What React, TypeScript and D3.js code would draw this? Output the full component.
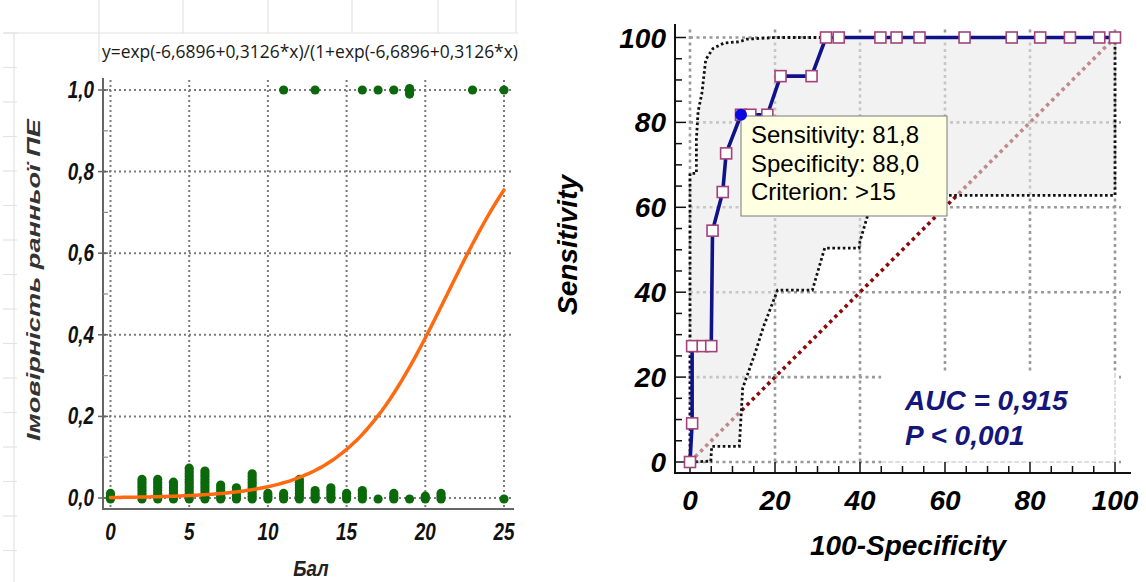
import React from 'react';
import * as d3 from 'd3';

// ---------- Left chart data (logistic regression) ----------
const scoresNo = [0, 2, 3, 4, 5, 6, 7, 8, 9, 10, 11, 12, 13, 14, 15, 16, 17, 18, 19, 20, 21, 25];
const countsNo = [3, 8, 8, 7, 12, 11, 6, 5, 10, 3, 3, 8, 4, 5, 3, 4, 1, 3, 1, 2, 3, 1];
const scoresYes = [11, 13, 16, 17, 18, 19, 23, 25];
const countsYes = [1, 1, 1, 1, 1, 3, 1, 1];
const logitB0 = -6.6896;
const logitB1 = 0.3126;
const leftYTicks = [0, 0.2, 0.4, 0.6, 0.8, 1.0];
const leftYMinor = [0.1, 0.3, 0.5, 0.7, 0.9];
const leftXTicks = [0, 5, 10, 15, 20, 25];
const equationLabel = 'y=exp(-6,6896+0,3126*x)/(1+exp(-6,6896+0,3126*x)';
const leftYTitle = 'Імовірність  ранньої ПЕ';
const leftXTitle = 'Бал';

// ---------- Right chart data (ROC) ----------
const rocFpr = [0, 0.5, 0.5, 3, 5, 5.3, 7.7, 8.5, 12, 14.2, 18.2, 21.3, 28.6, 32, 35, 44.8, 48.6, 54, 64.6, 75.7, 82.4, 89.4, 96.3, 100];
const rocTpr = [0, 9.1, 27.3, 27.3, 27.3, 54.5, 63.6, 72.7, 81.8, 81.8, 81.8, 90.9, 90.9, 100, 100, 100, 100, 100, 100, 100, 100, 100, 100, 100];
const ciUpperFpr = [0, 0, 1.5, 1.5, 1.9, 2.8, 3.7, 5.4, 8, 11.6, 13.3, 20, 100];
const ciUpperTpr = [0, 68, 68, 76, 82.5, 86.9, 94.8, 97.4, 98.7, 99, 99.6, 100, 100];
const ciLowerFpr = [0, 4.9, 5.1, 11.6, 12.4, 15.3, 17.3, 20.6, 28.8, 31.7, 39.8, 40, 41.9, 43.5, 100, 100];
const ciLowerTpr = [0, 0.2, 3.7, 3.7, 17.4, 25.6, 31.9, 40.5, 40.5, 50.4, 50.4, 52, 58.4, 62.8, 62.8, 100];
const rocTicks = [0, 20, 40, 60, 80, 100];
const rocMinorTicks = d3.range(0, 101, 5);
const criterionFpr = 12;
const criterionTpr = 81.8;
const tooltipLines = ['Sensitivity: 81,8', 'Specificity: 88,0', 'Criterion: >15'];
const aucLines = ['AUC = 0,915', 'P < 0,001'];
const rocXTitle = '100-Specificity';
const rocYTitle = 'Sensitivity';

const BI = { fontFamily: '"Liberation Sans", Arial, sans-serif', fontWeight: 700, fontStyle: 'italic' } as const;

export default function App() {
  // Left scales
  const xL = d3.scaleLinear().domain([0, 25]).range([110.5, 504]);
  const yL = d3.scaleLinear().domain([0, 1]).range([498, 90]);
  const fmt = (v: number) => d3.format('.1f')(v).replace('.', ',');
  const curveXs = d3.range(0, 25.001, 0.25);
  const curvePts: [number, number][] = curveXs.map((x) => [x, 1 / (1 + Math.exp(-(logitB0 + logitB1 * x)))]);
  const curvePath = d3.line<[number, number]>().x((d) => xL(d[0])).y((d) => yL(d[1])).curve(d3.curveMonotoneX)(curvePts) || '';
  const step = 2.8;
  const green = '#0b690b';

  // Right scales
  const xR = d3.scaleLinear().domain([0, 100]).range([690, 1115]);
  const yR = d3.scaleLinear().domain([0, 100]).range([462, 37.5]);
  const line = d3.line<[number, number]>().x((d) => xR(d[0])).y((d) => yR(d[1]));
  const rocPts: [number, number][] = rocFpr.map((f, i) => [f, rocTpr[i]]);
  const upPts: [number, number][] = ciUpperFpr.map((f, i) => [f, ciUpperTpr[i]]);
  const lowPts: [number, number][] = ciLowerFpr.map((f, i) => [f, ciLowerTpr[i]]);
  const bandPts = [...upPts, ...[...lowPts].reverse()];
  const bandPath = (line(bandPts) || '') + 'Z';

  const sheetRows = d3.range(33, 582, 34.5);
  const sheetCols = [99, 183, 268, 352, 438, 516];

  const gridR = '#9a9a9a';

  return (
    <svg width={1146} height={582} style={{ position: 'absolute', left: 0, top: 0, background: '#fff' }}>
      <rect x={0} y={0} width={1146} height={582} fill="#fff" />

      {/* faint spreadsheet background */}
      <g stroke="#e3e3e3" strokeWidth={1.2}>
        <line x1={4} x2={518} y1={33} y2={33} />
        {sheetCols.map((c) => (
          <line key={c} x1={c} x2={c} y1={0} y2={c === 99 ? 62 : 33} />
        ))}
        <line x1={14} x2={14} y1={33} y2={582} />
        {sheetRows.map((r) => (
          <line key={r} x1={3} x2={17} y1={r} y2={r} />
        ))}
      </g>

      {/* ================= LEFT CHART ================= */}
      <g>
        {/* grid */}
        <g stroke="#7a7a7a" strokeWidth={2} strokeDasharray="2,3">
          {leftXTicks.map((t) => (
            <line key={'vx' + t} x1={xL(t)} x2={xL(t)} y1={80} y2={508} />
          ))}
          {leftYTicks.map((t) => (
            <line key={'hy' + t} x1={104} x2={512} y1={yL(t)} y2={yL(t)} />
          ))}
        </g>
        {/* axes */}
        <line x1={103} x2={103} y1={78} y2={510} stroke="#666" strokeWidth={2} />
        <line x1={102} x2={514} y1={509} y2={509} stroke="#666" strokeWidth={2} />
        {leftYTicks.map((t) => (
          <line key={'mt' + t} x1={98} x2={108} y1={yL(t)} y2={yL(t)} stroke="#666" strokeWidth={1.5} />
        ))}
        {leftYMinor.map((t) => (
          <line key={'mn' + t} x1={103} x2={108} y1={yL(t)} y2={yL(t)} stroke="#888" strokeWidth={1.2} />
        ))}

        {/* points y=0 */}
        {scoresNo.map((s, i) =>
          d3.range(countsNo[i]).map((k) => (
            <circle key={'n' + s + '-' + k} cx={xL(s)} cy={yL(0) + 1 - k * step} r={4.6} fill={green} />
          ))
        )}
        {/* points y=1 */}
        {scoresYes.map((s, i) =>
          d3.range(countsYes[i]).map((k) => (
            <circle key={'y' + s + '-' + k} cx={xL(s)} cy={yL(1) - (countsYes[i] > 1 ? 1.5 : 0) + k * step} r={4.6} fill={green} />
          ))
        )}

        {/* logistic curve */}
        <path d={curvePath} fill="none" stroke="#ff6a10" strokeWidth={3.5} strokeLinecap="round" />

        {/* tick labels */}
        {leftYTicks.map((t) => (
          <text key={'yl' + t} transform={`translate(94,${yL(t) + 8}) scale(0.82,1)`} textAnchor="end" fontSize={23} fill="#111" style={BI}>
            {fmt(t)}
          </text>
        ))}
        {leftXTicks.map((t) => (
          <text key={'xl' + t} transform={`translate(${xL(t)},540) scale(0.82,1)`} textAnchor="middle" fontSize={23} fill="#111" style={BI}>
            {t}
          </text>
        ))}
        <text transform="translate(311,576) scale(0.85,1)" textAnchor="middle" fontSize={22} fill="#222" style={BI}>
          {leftXTitle}
        </text>
        <text
          transform="translate(40,280) rotate(-90)"
          textAnchor="middle"
          fontSize={19}
          fill="#333"
          textLength={322}
          lengthAdjust="spacingAndGlyphs"
          style={BI}
        >
          {leftYTitle}
        </text>
        <text
          x={102}
          y={58}
          fontSize={18}
          fill="#1a1a1a"
          textLength={416}
          lengthAdjust="spacingAndGlyphs"
          style={{ fontFamily: '"Open Sans", "Liberation Sans", sans-serif' }}
        >
          {equationLabel}
        </text>
      </g>

      {/* ================= RIGHT CHART ================= */}
      <g>
        {/* grid */}
        <g stroke={gridR} strokeWidth={2.6} strokeDasharray="3,3.5">
          {rocTicks.map((t) => (
            <line key={'gv' + t} x1={xR(t)} x2={xR(t)} y1={yR(100) - 8} y2={yR(0)} />
          ))}
          {rocTicks.map((t) => (
            <line key={'gh' + t} x1={xR(0)} x2={xR(100) + 6} y1={yR(t)} y2={yR(t)} />
          ))}
        </g>

        {/* AUC box (white, covers grid) */}
        <rect x={xR(45)} y={yR(21)} width={xR(100) - xR(45) + 2} height={yR(0) - yR(21) + 2} fill="#fff" stroke="none" />
        <g stroke="#bdbdbd" strokeWidth={1} strokeDasharray="5,2">
          <line x1={xR(45)} x2={xR(100)} y1={yR(0)} y2={yR(0)} />
          <line x1={xR(100)} x2={xR(100)} y1={yR(21)} y2={yR(0)} />
        </g>

        {/* diagonal reference */}
        <line x1={xR(0)} y1={yR(0)} x2={xR(100)} y2={yR(100)} stroke="#8b0a0a" strokeWidth={3.6} strokeDasharray="3.5,3.8" />

        {/* confidence band */}
        <path d={bandPath} fill="#e8e8e8" fillOpacity={0.58} stroke="none" />
        <path d={line(upPts) || ''} fill="none" stroke="#111" strokeWidth={2.8} strokeDasharray="2.6,2.6" />
        <path d={line(lowPts) || ''} fill="none" stroke="#111" strokeWidth={2.8} strokeDasharray="2.6,2.6" />

        {/* axes */}
        <line x1={675} x2={675} y1={24} y2={474} stroke="#111" strokeWidth={2} />
        <line x1={674} x2={1131} y1={473} y2={473} stroke="#111" strokeWidth={2} />
        {rocMinorTicks.map((t) => (
          <g key={'tk' + t} stroke="#111" strokeWidth={1.5}>
            <line x1={675} x2={675 + (t % 20 === 0 ? 11 : 7)} y1={yR(t)} y2={yR(t)} />
            <line x1={xR(t)} x2={xR(t)} y1={473} y2={473 - (t % 20 === 0 ? 11 : 7)} />
          </g>
        ))}

        {/* ROC curve */}
        <path d={line(rocPts) || ''} fill="none" stroke="#0f1288" strokeWidth={3.6} strokeLinejoin="round" />
        {rocPts.map((p, i) => (
          <rect key={'sq' + i} x={xR(p[0]) - 5.5} y={yR(p[1]) - 5.5} width={11} height={11} fill="#fff" stroke="#a2437a" strokeWidth={1.6} />
        ))}

        {/* tick labels */}
        {rocTicks.map((t) => (
          <text key={'ryl' + t} x={666} y={yR(t) + 10} textAnchor="end" fontSize={28} fill="#000" style={BI}>
            {t}
          </text>
        ))}
        {rocTicks.map((t) => (
          <text key={'rxl' + t} x={xR(t)} y={510} textAnchor="middle" fontSize={28} fill="#000" style={BI}>
            {t}
          </text>
        ))}
        <text x={908} y={555} textAnchor="middle" fontSize={28} fill="#000" style={BI}>
          {rocXTitle}
        </text>
        <text transform="translate(577,245) rotate(-90)" textAnchor="middle" fontSize={28} fill="#000" style={BI}>
          {rocYTitle}
        </text>

        {/* AUC text */}
        {aucLines.map((s, i) => (
          <text key={'auc' + i} x={xR(50.6)} y={yR(14.7) + 10} dy={i * 35} fontSize={28} fill="#14167a" style={BI}>
            {s}
          </text>
        ))}

        {/* tooltip */}
        <rect x={741} y={116} width={206} height={100} fill="#ffffe1" stroke="#7a7a7a" strokeWidth={1} />
        {tooltipLines.map((s, i) => (
          <text key={'tt' + i} x={751} y={143 + i * 28.5} fontSize={24} fill="#000" style={{ fontFamily: '"Liberation Sans", Arial, sans-serif' }}>
            {s}
          </text>
        ))}
        <circle cx={xR(criterionFpr)} cy={yR(criterionTpr)} r={6} fill="#0a0ae0" />
      </g>
    </svg>
  );
}
